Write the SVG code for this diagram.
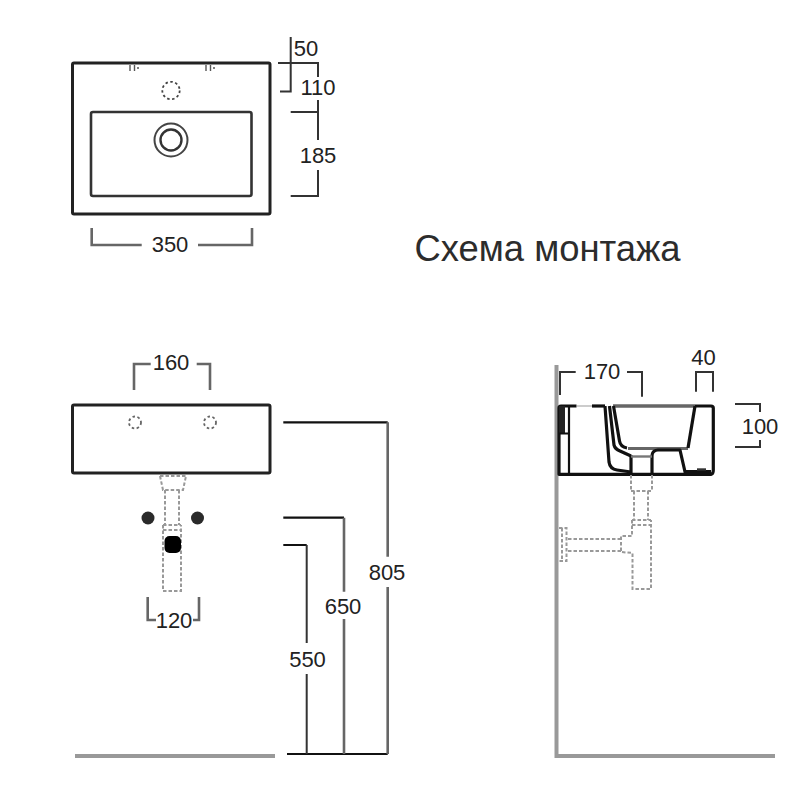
<svg xmlns="http://www.w3.org/2000/svg" width="800" height="800" viewBox="0 0 800 800">
<style>
text{font-family:"Liberation Sans",Arial,sans-serif;font-size:22px;fill:#222;text-anchor:middle}
.title{font-size:36.400px;fill:#2c2c2c;text-anchor:start}
path,rect,circle,line{fill:none}
.o{stroke:#222;stroke-width:3;stroke-linejoin:round}
.i{stroke:#333;stroke-width:2.6;stroke-linejoin:round}
.s{stroke:#111;stroke-width:3.2;stroke-linejoin:round}
.d{stroke:#333;stroke-width:2}
.g{stroke:#666;stroke-width:2.6}
.k{stroke:#111;stroke-width:2.2}
.w{stroke:#999;stroke-width:4}
.da{stroke:#999;stroke-width:2;stroke-dasharray:3.500 2}
.hole{stroke:#666;stroke-width:1.800;stroke-dasharray:2.500 2.500}
.fill{fill:#2a2a2a}
</style>
<rect width="800" height="800" fill="#fff"/>
<g id="top-view">
<rect class="o" x="72.500" y="63" width="197.500" height="151" rx="1.500"/>
<rect class="i" x="91" y="112" width="160.500" height="84" rx="2"/>
<circle cx="171" cy="140" r="16.500" stroke="#444" stroke-width="2"/>
<circle cx="171" cy="140" r="10.500" stroke="#333" stroke-width="2.400"/>
<circle class="hole" cx="171" cy="90.500" r="8.700" style="stroke:#444"/>
<path d="M130 65v6M134.500 65v6M137 68h2M206 65v6M210.500 65v6M213 68h2" stroke="#555" stroke-width="1.400"/>
</g>
<g id="front-view">
<rect class="o" x="72.500" y="405" width="197.500" height="68" rx="1.500"/>
<circle class="hole" cx="135" cy="422.500" r="6"/>
<circle class="hole" cx="210" cy="422.500" r="6"/>
<path class="da" d="M160 476H186M160 476L163 490H183L186 476M165 490V525M179 490V525M163 525H181M163 525V591H181V525M163 530H181"/>
<circle class="fill" cx="148" cy="518" r="6.500"/>
<circle class="fill" cx="197.500" cy="518" r="6.500"/>
<rect x="164.500" y="536" width="16.500" height="17" rx="5" style="fill:#000"/>
</g>
<g id="side-view">
<path class="w" d="M556.500 365V756H775"/>
<path class="s" d="M576.500 406H561Q559 406 559 408V474.300H711Q713.300 474 713.300 470V408Q713.300 406 711 406H695"/>
<path d="M577 406H592" stroke="#ccc" stroke-width="2"/>
<path class="s" d="M592 406H605"/>
<path d="M613 406H695" stroke="#666" stroke-width="3.400"/>
<path d="M562 406V433" stroke="#222" stroke-width="6"/>
<path class="k" d="M559 433.500H569M569 406V474"/>
<path class="s" d="M605 406L609 462Q610 469 617 470L631 472"/>
<path class="s" d="M609.500 406L614 445Q615 449 620 451L631 456"/>
<path class="s" d="M613.500 406L619.500 441Q620.500 447 627 448"/>
<path d="M628 448.500H688" stroke="#666" stroke-width="3"/>
<path class="s" d="M688 448L695 406"/>
<path class="s" d="M631 455V474M652 455V474"/>
<path d="M631 456.500H652" stroke="#777" stroke-width="2.400"/>
<path class="s" d="M652 455Q653 450 658 450H680L685.500 474"/>
<path d="M686 472H711" stroke="#111" stroke-width="4"/>
<path d="M697 469.500H706" stroke="#333" stroke-width="2.400"/>
<path class="da" d="M631 475V491M652 475V491M631 491H652M634 491V520M648 491V520M632 520H651M632 525H651M632 520V536H621V552L632.500 553V589H651V520M621 539H566.500M621 551H566.500M559 528H566.500V561H559M562 528V561"/>
</g>
<g id="dimensions">
<path class="d" d="M290.700 37V91.500H280M278 63H318V77M318 100V140M290.700 112H318M318 170V196H290.700"/>
<path class="g" d="M91.700 228V245H141.700M198 245H252V228"/>
<path class="g" d="M134 390V364H150.700M196.700 364H210V390"/>
<path class="g" d="M147.700 597V620H156M193 620H199V597"/>
<path class="k" d="M283.300 422.300H387.700M283.300 517.700H344M283.300 545H306.700M287 754H387.700"/>
<path class="g" d="M387.700 422.300V556.700M387.700 587V754M344 517.700V591.700M344 619V754"/>
<path class="d" d="M306.700 545V643M306.700 674V754"/>
<path class="d" d="M560 395V372H575.700M627 372H642V396.700M696 391.700V372H713V391.700M735 404H760V412M760 440V447H735"/>
<path d="M75 756H275" stroke="#999" stroke-width="4"/>
</g>
<g id="labels">
<text x="306" y="56">50</text>
<text x="318" y="95">110</text>
<text x="318" y="163">185</text>
<text x="170" y="252">350</text>
<text x="171" y="370">160</text>
<text x="174" y="628">120</text>
<text x="387" y="580">805</text>
<text x="343" y="614">650</text>
<text x="307.500" y="667">550</text>
<text x="602" y="379">170</text>
<text x="703.500" y="365">40</text>
<text x="760" y="434">100</text>
<text class="title" x="414.500" y="261">Схема монтажа</text>
</g>
</svg>
